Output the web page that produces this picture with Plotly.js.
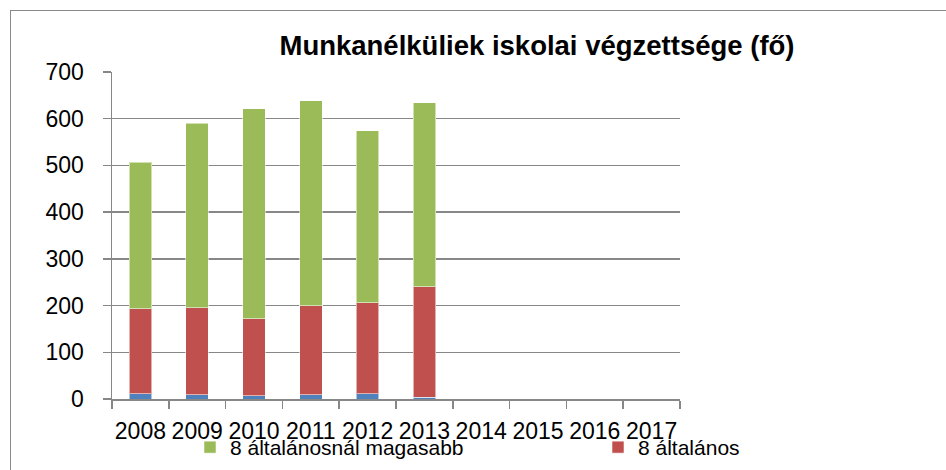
<!DOCTYPE html>
<html>
<head>
<meta charset="utf-8">
<script src="https://cdn.plot.ly/plotly-3.0.1.min.js"></script>
<style>
  html, body { margin: 0; padding: 0; background: #fff; }
  #wrap { position: relative; width: 946px; height: 470px; overflow: hidden; }
  #chart { width: 946px; height: 470px; }
  #frame { position: absolute; left: 10px; top: 10px; width: 960px; height: 480px;
           border-left: 1.5px solid #8a8a8a; border-top: 1.5px solid #8a8a8a; pointer-events: none; }
</style>
</head>
<body>
<div id="wrap">
  <div id="chart"></div>
  <div id="frame"></div>
</div>
<script>
const years = ['2008','2009','2010','2011','2012','2013','2014','2015','2016','2017'];
const belowEight = [11, 9, 7, 9, 11, 4, null, null, null, null];
const eightGrade = [182, 186, 165, 191, 195, 236, null, null, null, null];
const aboveEight = [314, 395, 449, 439, 368, 394, null, null, null, null];
const seriesNames = ['8 általánosnál kevesebb', '8 általános', '8 általánosnál magasabb'];
const yTicks = [0, 100, 200, 300, 400, 500, 600, 700];

const FONT = 'Liberation Sans, Arial, sans-serif';
const edge = { color: 'rgba(255,255,255,0.55)', width: 1 };

const traces = [
  { type: 'bar', x: years, y: belowEight, name: seriesNames[0], showlegend: false, marker: { color: '#4F81BD', line: edge } },
  { type: 'bar', x: years, y: eightGrade, name: seriesNames[1], marker: { color: '#C0504D', line: edge } },
  { type: 'bar', x: years, y: aboveEight, name: seriesNames[2], marker: { color: '#9BBB59', line: edge } }
];

const plotW = 946 - 112 - 10;
const layout = {
  width: 946, height: 470,
  margin: { l: 112, r: 10, t: 72, b: 71, autoexpand: false },
  paper_bgcolor: '#ffffff', plot_bgcolor: '#ffffff',
  font: { family: FONT, color: '#000', size: 23 },
  barmode: 'stack',
  bargap: 0.605,
  title: {
    text: 'Munkanélküliek iskolai végzettsége (fő)',
    font: { family: FONT, size: 27.5, color: '#000', weight: 'bold' },
    xref: 'container', x: 537 / 946, xanchor: 'center',
    yref: 'container', y: 1 - 45 / 470, yanchor: 'middle'
  },
  xaxis: {
    type: 'category', categoryorder: 'array', categoryarray: years,
    domain: [0, 568 / plotW],
    showline: true, linecolor: '#878787', linewidth: 1.5,
    ticks: 'outside', tickson: 'boundaries', ticklen: 8, tickwidth: 1.5, tickcolor: '#878787',
    tickangle: 0, tickfont: { family: FONT, size: 23, color: '#000' },
    ticklabelstandoff: 11,
    showgrid: false, zeroline: false, fixedrange: true
  },
  yaxis: {
    range: [0, 700], tickvals: yTicks, ticktext: yTicks.map(String),
    showline: true, linecolor: '#878787', linewidth: 1.5,
    ticks: 'outside', ticklen: 8, tickwidth: 1.5, tickcolor: '#878787',
    tickfont: { family: FONT, size: 23, color: '#000' },
    ticklabelstandoff: 14,
    showgrid: true, gridcolor: '#878787', gridwidth: 1.5,
    zeroline: false, fixedrange: true
  },
  showlegend: true,
  legend: {
    orientation: 'h', traceorder: 'reversed',
    x: (190 - 112) / plotW, xanchor: 'left',
    y: (399 - 427) / 327, yanchor: 'top',
    entrywidth: 363, entrywidthmode: 'pixels',
    font: { family: FONT, size: 21, color: '#000' },
    bgcolor: 'rgba(0,0,0,0)', borderwidth: 0
  }
};

Plotly.newPlot('chart', traces, layout, { displayModeBar: false, staticPlot: true });
</script>
</body>
</html>
